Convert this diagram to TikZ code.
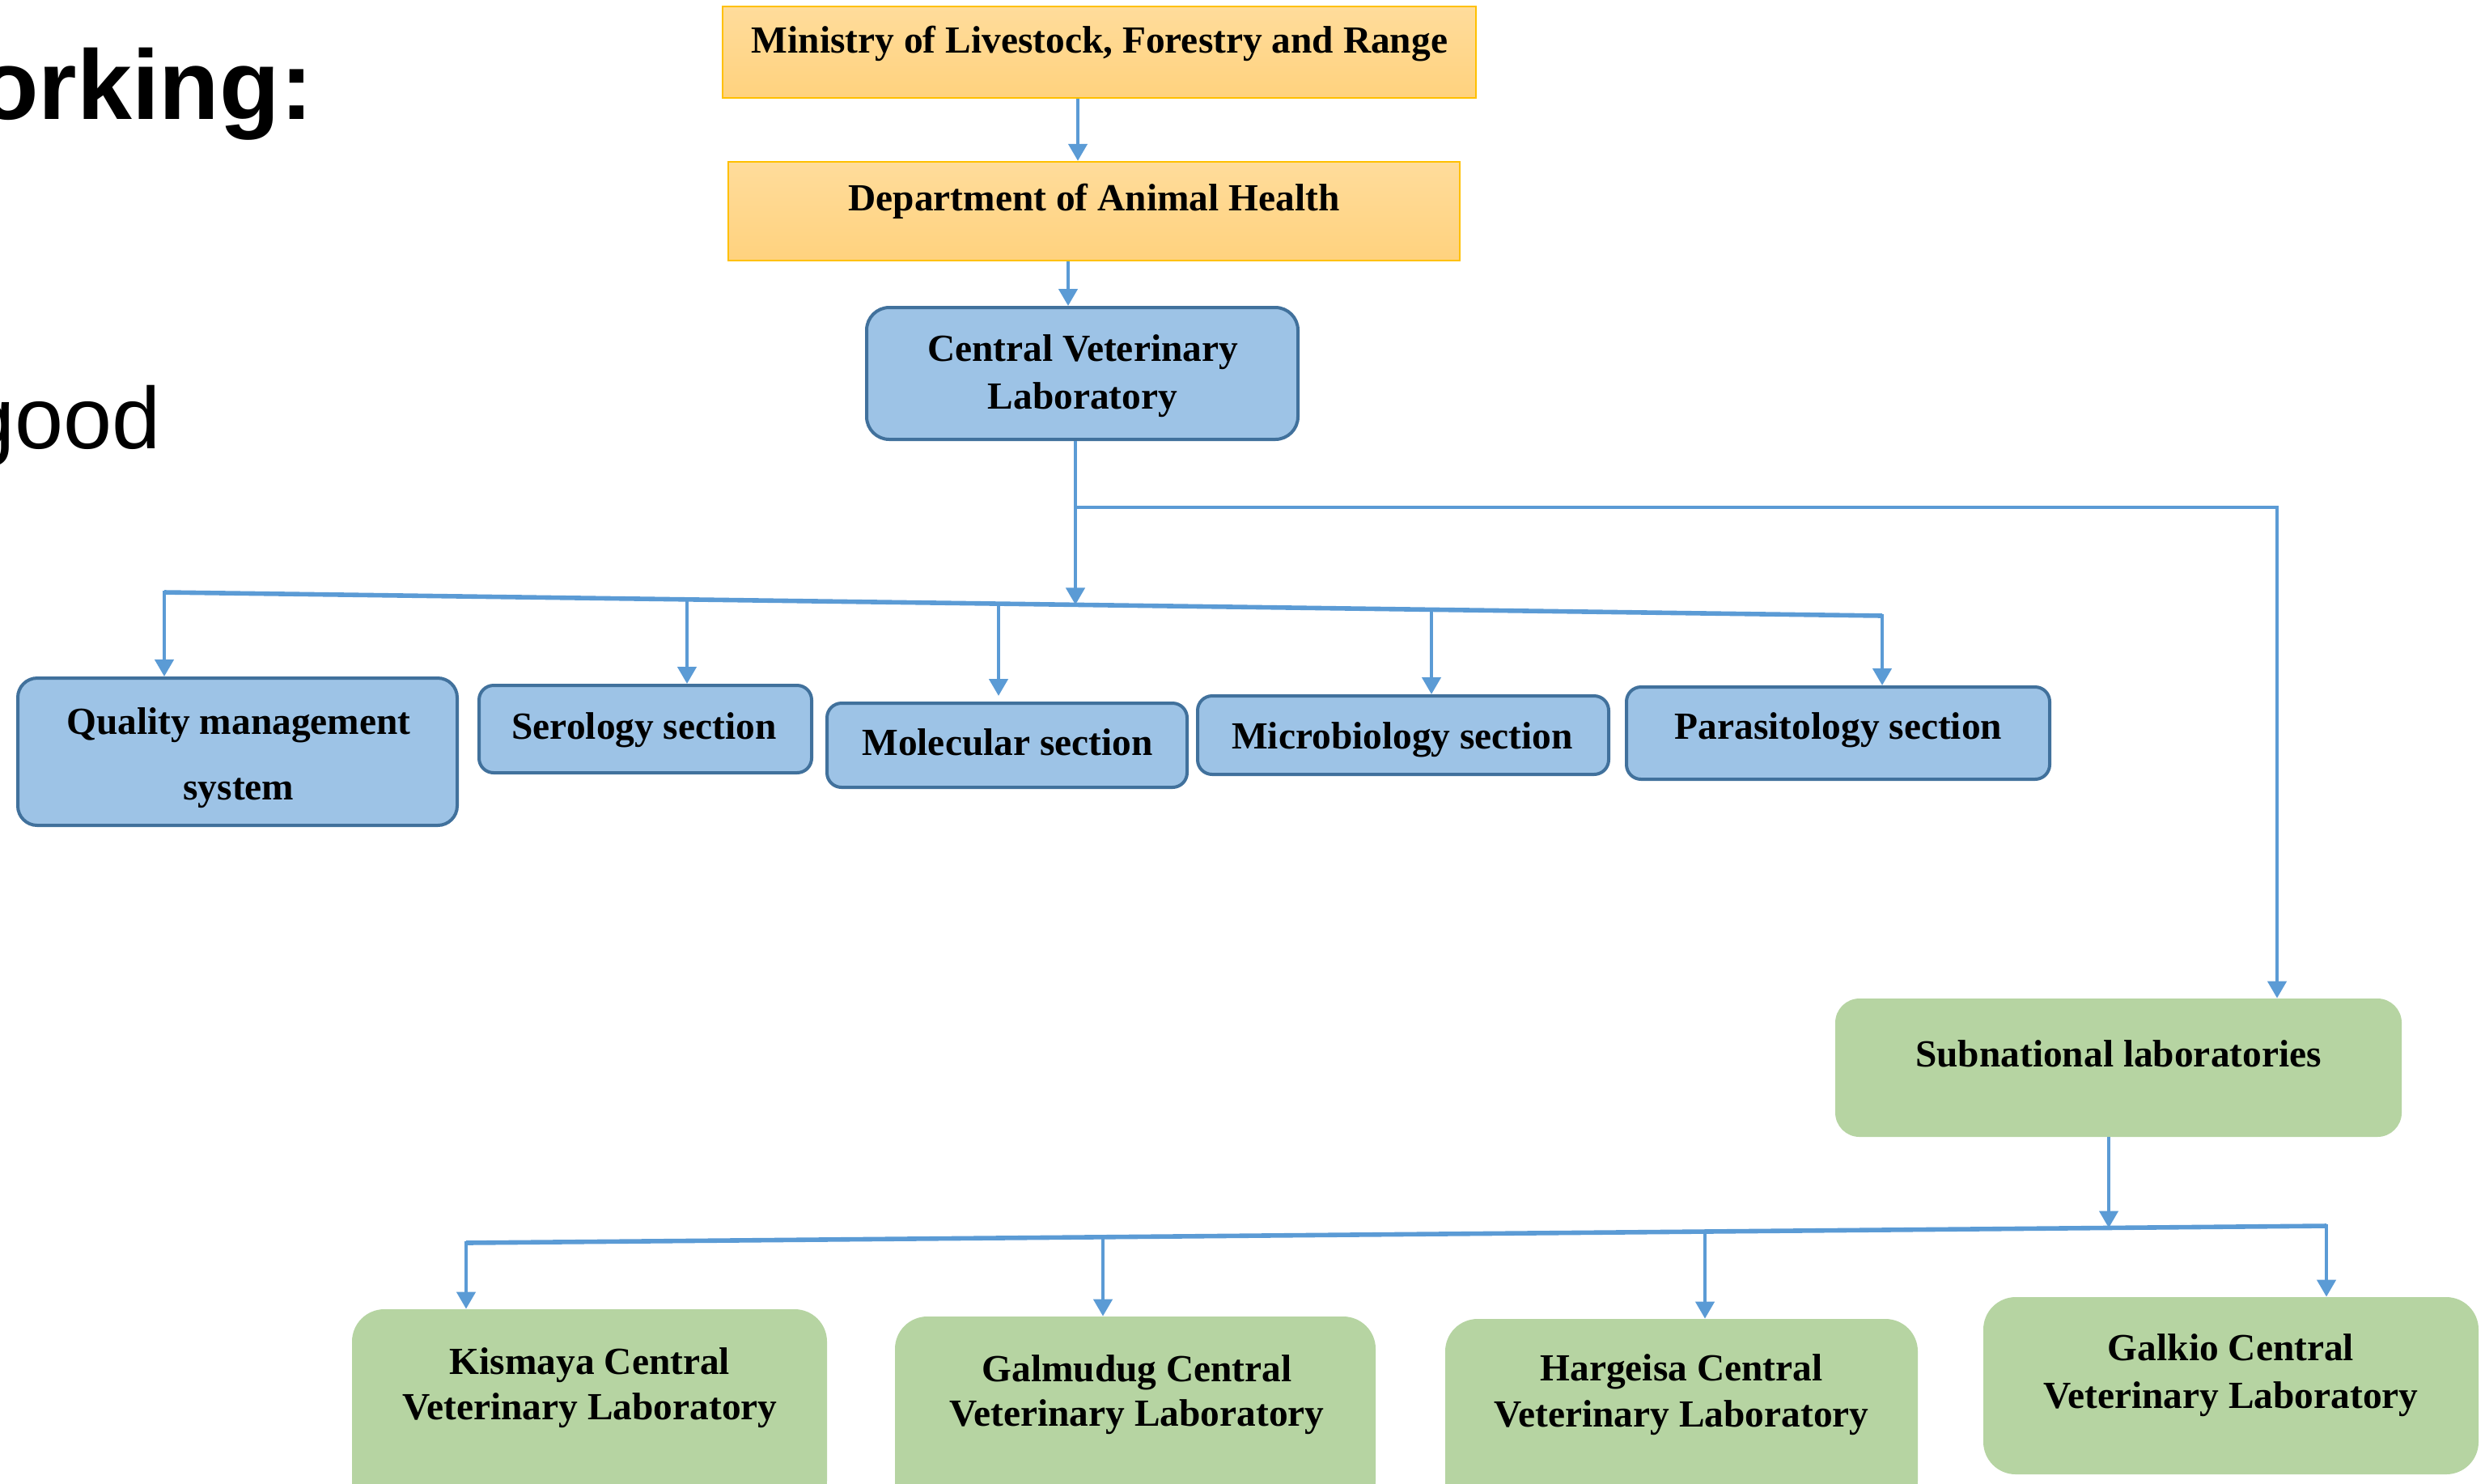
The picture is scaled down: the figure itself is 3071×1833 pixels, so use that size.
\documentclass[tikz,border=0pt]{standalone}
\usepackage{fontspec}
\setmainfont{Liberation Serif}
\newfontfamily\sansfam{Liberation Sans}
\usetikzlibrary{arrows.meta}
\definecolor{lineblue}{HTML}{5B9BD5}
\definecolor{boxblue}{HTML}{9DC3E6}
\definecolor{boxblueedge}{HTML}{41719C}
\definecolor{boxgreen}{HTML}{B6D4A2}
\definecolor{orgtop}{HTML}{FFDC9B}
\definecolor{orgbot}{HTML}{FFD27E}
\definecolor{orgedge}{HTML}{FFC000}
\begin{document}
\begin{tikzpicture}[x=0.5pt,y=-0.5pt,
  orgbox/.style={draw=orgedge, line width=1.2pt, top color=orgtop, bottom color=orgbot, inner sep=0pt},
  bluebox/.style={draw=boxblueedge, line width=2pt, fill=boxblue, rounded corners=#1, inner sep=0pt},
  greenbox/.style={fill=boxgreen, rounded corners=#1, inner sep=0pt},
  lbl/.style={anchor=base, inner sep=0pt, font=\fontsize{23.7pt}{28pt}\selectfont\bfseries},
  conn/.style={draw=lineblue, line width=2.2pt},
  arr/.style={conn, -{Triangle[width=11.5pt,length=10.5pt]}},
  busline/.style={draw=lineblue, line width=2.8pt},
]
\useasboundingbox (0,0) rectangle (3071,1833);
\fill[white] (0,0) rectangle (3071,1833);

% slide text fragments
\node[anchor=base east, inner sep=0pt, font=\sansfam\bfseries\fontsize{61pt}{70pt}\selectfont] (title) at (387,147) {orking:};
\node[anchor=base east, inner sep=0pt, font=\sansfam\fontsize{54pt}{62pt}\selectfont] (good) at (199,554) {good};

% boxes
\node[orgbox, minimum width=465.5pt, minimum height=56.5pt] (min) at (1358.5,64.5) {};
\node[orgbox, minimum width=452pt, minimum height=61pt] (dept) at (1352,261) {};
\node[bluebox=14pt, minimum width=266.5pt, minimum height=81.5pt] (cvl) at (1337.5,461.5) {};
\node[bluebox=12pt, minimum width=271.5pt, minimum height=91pt] (qms) at (293.5,929) {};
\node[bluebox=9pt, minimum width=205.5pt, minimum height=54pt] (ser) at (797.5,901) {};
\node[bluebox=9pt, minimum width=222.5pt, minimum height=52pt] (mol) at (1244.5,921) {};
\node[bluebox=9pt, minimum width=254pt, minimum height=48.5pt] (mic) at (1734,908.5) {};
\node[bluebox=9pt, minimum width=261.5pt, minimum height=57pt] (par) at (2271.5,906) {};
\node[greenbox=15pt, minimum width=350pt, minimum height=85.5pt] (sub) at (2618,1319.5) {};
\node[greenbox=20pt, minimum width=293.5pt, minimum height=126pt] (kis) at (728.5,1744) {};
\node[greenbox=20pt, minimum width=297pt, minimum height=121.5pt] (gal) at (1403,1748.5) {};
\node[greenbox=20pt, minimum width=292pt, minimum height=120pt] (har) at (2078,1750) {};
\node[greenbox=20pt, minimum width=306pt, minimum height=109.5pt] (glk) at (2757,1712.5) {};

% connector coordinates
\coordinate (a1) at (1332,0);
\coordinate (a2) at (1320,0);
\coordinate (a3) at (1329,0);
\coordinate (busL) at (203,732);
\coordinate (busR) at (2326,761);
\coordinate (busM) at (1329,747.4);
\coordinate (brL) at (1329,627);
\coordinate (brR) at (2814,627);
\coordinate (bSer) at (849,740.8);
\coordinate (bMol) at (1234,746.1);
\coordinate (tMol) at (1234,860);
\coordinate (bMic) at (1769,753.4);
\coordinate (b2L) at (576,1536);
\coordinate (b2R) at (2875,1515);
\coordinate (b2S) at (2606,1517.5);
\coordinate (b2Gal) at (1363,1528.8);
\coordinate (b2Har) at (2107,1522);

% connectors
\draw[arr] (min.south -| a1) -- (dept.north -| a1);
\draw[arr] (dept.south -| a2) -- (cvl.north -| a2);
\draw[arr] (cvl.south -| a3) -- (busM);
\draw[arr, line join=miter] (brL) -- (brR) -- (sub.north -| brR);
\draw[busline] (busL) -- (busR);
\draw[arr] ([yshift=1.2pt]busL) -- (qms.north -| busL);
\draw[arr] (bSer) -- (ser.north -| bSer);
\draw[arr] (bMol) -- (tMol);
\draw[arr] (bMic) -- (mic.north -| bMic);
\draw[arr] ([yshift=1.2pt]busR) -- (par.north -| busR);
\draw[busline] (b2L) -- (b2R);
\draw[arr] (sub.south -| b2S) -- (b2S);
\draw[arr] ([yshift=1.2pt]b2L) -- (kis.north -| b2L);
\draw[arr] (b2Gal) -- (gal.north -| b2Gal);
\draw[arr] (b2Har) -- (har.north -| b2Har);
\draw[arr] ([yshift=1.2pt]b2R) -- (glk.north -| b2R);

% labels
\node[lbl] (minT) at (1359,65) {Ministry of Livestock, Forestry and Range};
\node[lbl] (deptT) at (1352,260) {Department of Animal Health};
\node[lbl] (cvlT1) at (1338,446) {Central Veterinary};
\node[lbl] (cvlT2) at (1338,505) {Laboratory};
\node[lbl] (qmsT1) at (295,907) {Quality management};
\node[lbl] (qmsT2) at (295,988) {system};
\node[lbl] (serT) at (796,913) {Serology section};
\node[lbl] (molT) at (1245,933) {Molecular section};
\node[lbl] (micT) at (1733,925) {Microbiology section};
\node[lbl] (parT) at (2272,913) {Parasitology section};
\node[lbl] (subT) at (2618,1318) {Subnational laboratories};
\node[lbl] (kisT1) at (729,1698) {Kismaya Central};
\node[lbl] (kisT2) at (729,1754) {Veterinary Laboratory};
\node[lbl] (galT1) at (1405,1707) {Galmudug Central};
\node[lbl] (galT2) at (1405,1762) {Veterinary Laboratory};
\node[lbl] (harT1) at (2078,1706) {Hargeisa Central};
\node[lbl] (harT2) at (2078,1763) {Veterinary Laboratory};
\node[lbl] (glkT1) at (2757,1681) {Galkio Central};
\node[lbl] (glkT2) at (2757,1740) {Veterinary Laboratory};
\end{tikzpicture}
\end{document}
